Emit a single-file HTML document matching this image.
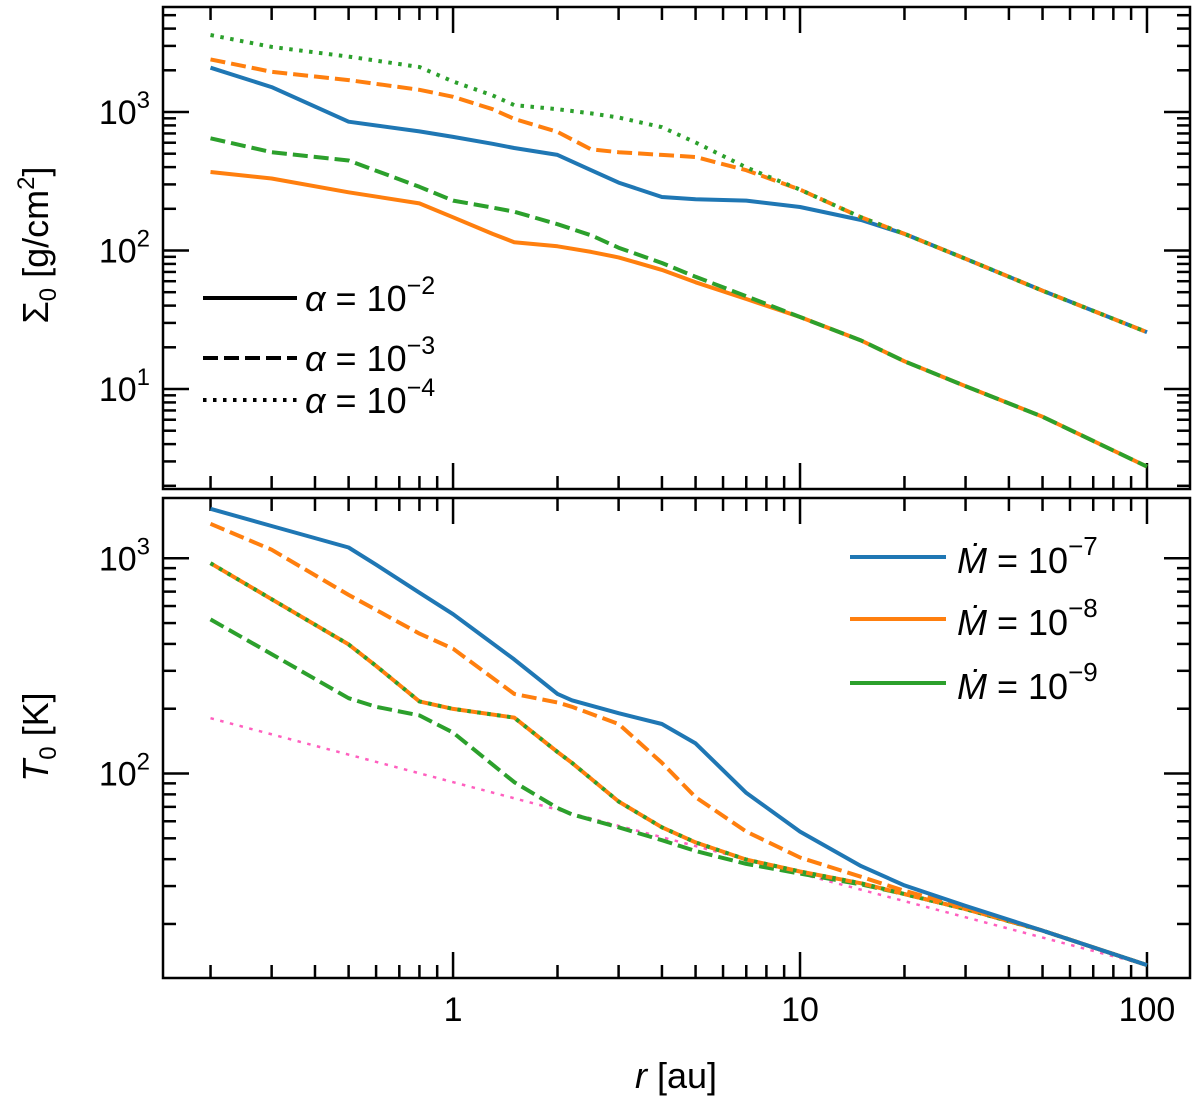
<!DOCTYPE html>
<html><head><meta charset="utf-8"><style>
html,body{margin:0;padding:0;background:#fff}
svg{display:block;font-family:"Liberation Sans","DejaVu Sans",sans-serif}
</style></head><body>
<svg id="chart" width="1200" height="1105" viewBox="0 0 1200 1105" xmlns="http://www.w3.org/2000/svg"></svg>
<script>
// ---- data (log10 of values) ----
const rTop = [0.2,0.3,0.5,0.8,1,1.3,1.5,2,2.5,3,4,5,7,10,15,20,30,50,100];
const sigBlueSolid   = [3.32,3.18,2.93,2.86,2.82,2.77,2.74,2.69,2.58,2.49,2.386,2.37,2.36,2.314,2.22,2.12,1.94,1.71,1.41];
const sigOrangeDash  = [3.38,3.29,3.23,3.16,3.11,3.02,2.95,2.856,2.73,2.71,2.69,2.675,2.58,2.44,2.24,2.12,1.94,1.71,1.41];
const sigGreenDot    = [3.556,3.47,3.40,3.325,3.22,3.12,3.05,3.02,2.99,2.96,2.89,2.78,2.6,2.44,2.24,2.12,1.94,1.71,1.41];
const sigGreenDash   = [2.81,2.71,2.65,2.46,2.36,2.31,2.28,2.19,2.11,2.02,1.91,1.81,1.67,1.52,1.35,1.2,1.02,0.8,0.44];
const sigOrangeSolid = [2.567,2.52,2.42,2.34,2.24,2.12,2.06,2.03,1.99,1.95,1.86,1.77,1.65,1.52,1.35,1.2,1.02,0.8,0.44];

const rBot = [0.2,0.3,0.5,0.6,0.8,1,1.5,2,2.2,3,4,5,7,10,15,20,30,50,100];
const tBlueSolid   = [3.23,3.15,3.05,2.97,2.84,2.74,2.53,2.37,2.34,2.28,2.23,2.14,1.91,1.73,1.57,1.48,1.385,1.27,1.11];
const tOrangeDash  = [3.16,3.04,2.83,2.76,2.65,2.58,2.37,2.33,2.31,2.23,2.05,1.89,1.73,1.61,1.52,1.455,1.376,1.27,1.11];
const tOrangeSolid = [2.977,2.81,2.6,2.5,2.335,2.30,2.26,2.10,2.05,1.87,1.75,1.68,1.6,1.545,1.49,1.44,1.37,1.27,1.11];
const tGreenDot    = [2.977,2.81,2.6,2.5,2.335,2.30,2.26,2.10,2.05,1.87,1.75,1.68,1.6,1.545,1.49,1.44,1.37,1.27,1.11];
const tGreenDash   = [2.716,2.555,2.35,2.31,2.27,2.19,1.96,1.84,1.81,1.75,1.69,1.64,1.58,1.535,1.485,1.44,1.37,1.27,1.11];
const rPink = [0.2,100];
const tPink = [2.257,1.11];

const xTicks = [1,10,100];
const xTickLabels = ["1","10","100"];
const topYTicks = [1,2,3];
const botYTicks = [2,3];

// ---- layout ----
const L=163,R=1190;
const P1={top:7,bot:489,lo:0.278,hi:3.758};
const P2={top:498,bot:978,lo:1.05,hi:3.28};
const xlo=-0.836, xhi=2.124;
const X=r=>L+(Math.log10(r)-xlo)/(xhi-xlo)*(R-L);
const Y=(p,v)=>p.bot-(v-p.lo)/(p.hi-p.lo)*(p.bot-p.top);
const svg=document.getElementById('chart');
const NS='http://www.w3.org/2000/svg';
function mk(tag,attrs,parent){const e=document.createElementNS(NS,tag);for(const k in attrs)e.setAttribute(k,attrs[k]);(parent||svg).appendChild(e);return e;}

const C={blue:'#1f77b4',orange:'#ff7f0e',green:'#2ca02c',pink:'#ff5fbf'};
const DASH={solid:'',dash:'15,6',dot:'3.5,6.5'};

function series(p,rs,vs,color,style,name,w){
  const d=rs.map((r,i)=>(i?'L':'M')+X(r).toFixed(1)+','+Y(p,vs[i]).toFixed(1)).join(' ');
  const e=mk('path',{d:d,fill:'none',stroke:color,'stroke-width':w||4,'stroke-dasharray':DASH[style],'stroke-linejoin':'round'});
  
  
}

function panel(p,yTicks,name){
  const g=mk('g',{});
  
  
  for(let e=-1;e<=2;e++)for(let m=1;m<=9;m++){
    const r=m*Math.pow(10,e);const lr=Math.log10(r);if(lr<xlo||lr>xhi)continue;
    const x=X(r);const len=m===1?26:13;
    mk('line',{x1:x,x2:x,y1:p.top,y2:p.top+len,stroke:'#000','stroke-width':2.5},g);
    mk('line',{x1:x,x2:x,y1:p.bot,y2:p.bot-len,stroke:'#000','stroke-width':2.5},g);
  }
  for(let e=0;e<=3;e++)for(let m=1;m<=9;m++){
    const lv=Math.log10(m*Math.pow(10,e));if(lv<p.lo||lv>p.hi)continue;
    const y=Y(p,lv);const len=m===1?26:13;
    mk('line',{x1:L,x2:L+len,y1:y,y2:y,stroke:'#000','stroke-width':2.5},g);
    mk('line',{x1:R,x2:R-len,y1:y,y2:y,stroke:'#000','stroke-width':2.5},g);
  }
  yTicks.forEach(v=>{
    const t=mk('text',{x:150,y:Y(p,v)+12,'text-anchor':'end','font-size':34},g);
    t.textContent='10';
    const s=mk('tspan',{dy:-16,'font-size':24},t);s.textContent=String(v);
    
    
  });
  mk('rect',{x:L,y:p.top,width:R-L,height:p.bot-p.top,fill:'none',stroke:'#000','stroke-width':2.5},g);
}

panel(P1,topYTicks,'top-panel-axes');
panel(P2,botYTicks,'bottom-panel-axes');

series(P1,rTop,sigOrangeSolid,C.orange,'solid','sigma-mdot8-alpha2');
series(P1,rTop,sigGreenDash,C.green,'dash','sigma-mdot9-alpha3');
series(P1,rTop,sigBlueSolid,C.blue,'solid','sigma-mdot7-alpha2');
series(P1,rTop,sigOrangeDash,C.orange,'dash','sigma-mdot8-alpha3');
series(P1,rTop,sigGreenDot,C.green,'dot','sigma-mdot9-alpha4');

series(P2,rPink,tPink,C.pink,'dot','t-irradiation',2.5);
series(P2,rBot,tGreenDash,C.green,'dash','t-mdot9-alpha3');
series(P2,rBot,tOrangeSolid,C.orange,'solid','t-mdot8-alpha2');
series(P2,rBot,tGreenDot,C.green,'dot','t-mdot9-alpha4');
series(P2,rBot,tOrangeDash,C.orange,'dash','t-mdot8-alpha3');
series(P2,rBot,tBlueSolid,C.blue,'solid','t-mdot7-alpha2');

xTicks.forEach((r,i)=>{
  const t=mk('text',{x:X(r),y:1021,'text-anchor':'middle','font-size':34});
  t.textContent=xTickLabels[i];
  
  
});
</script>
<svg style="position:absolute;left:0;top:0" width="1200" height="1105" xmlns="http://www.w3.org/2000/svg" font-family="Liberation Sans, DejaVu Sans, sans-serif">
  <text x="676" y="1088" text-anchor="middle" font-size="36"><tspan font-style="italic">r</tspan>  [au]</text>
  <text transform="translate(48,245) rotate(-90)" text-anchor="middle" font-size="36">Σ<tspan font-size="24" dy="8">0</tspan><tspan dy="-8"> [g/cm</tspan><tspan font-size="24" dy="-14">2</tspan><tspan dy="14">]</tspan></text>
  <text transform="translate(48,737) rotate(-90)" text-anchor="middle" font-size="36"><tspan font-style="italic">T</tspan><tspan font-size="24" dy="8">0</tspan><tspan dy="-8"> [K]</tspan></text>
  <g font-size="36">
    <line x1="203" x2="297" y1="298" y2="298" stroke="#000" stroke-width="4"/>
    <line x1="203" x2="297" y1="358" y2="358" stroke="#000" stroke-width="4" stroke-dasharray="15,6"/>
    <line x1="203" x2="297" y1="400" y2="400" stroke="#000" stroke-width="4" stroke-dasharray="3.5,6.5"/>
    <text x="305" y="311"><tspan font-style="italic">α</tspan> = 10<tspan font-size="25" dy="-17">−2</tspan></text>
    <text x="305" y="371"><tspan font-style="italic">α</tspan> = 10<tspan font-size="25" dy="-17">−3</tspan></text>
    <text x="305" y="413"><tspan font-style="italic">α</tspan> = 10<tspan font-size="25" dy="-17">−4</tspan></text>
  </g>
  <g font-size="36">
    <line x1="850" x2="946" y1="557" y2="557" stroke="#1f77b4" stroke-width="4"/>
    <line x1="850" x2="946" y1="619" y2="619" stroke="#ff7f0e" stroke-width="4"/>
    <line x1="850" x2="946" y1="683" y2="683" stroke="#2ca02c" stroke-width="4"/>
    <text x="957" y="573"><tspan font-style="italic">Ṁ</tspan> = 10<tspan font-size="26" dy="-18">−7</tspan></text>
    <text x="957" y="635"><tspan font-style="italic">Ṁ</tspan> = 10<tspan font-size="26" dy="-18">−8</tspan></text>
    <text x="957" y="699"><tspan font-style="italic">Ṁ</tspan> = 10<tspan font-size="26" dy="-18">−9</tspan></text>
  </g>
</svg>
</body></html>
